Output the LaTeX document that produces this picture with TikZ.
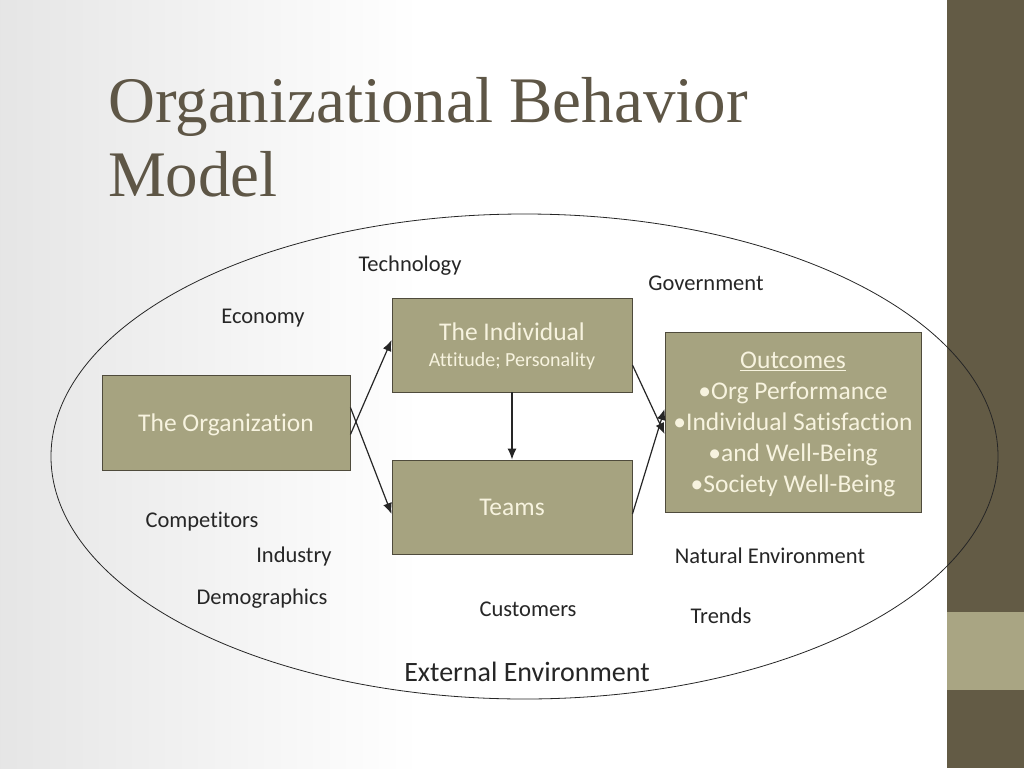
\documentclass[tikz,border=0pt]{standalone}
\usepackage{fontspec}
\usetikzlibrary{arrows.meta}
\setmainfont{Carlito}[Ligatures=NoCommon]
\newfontfamily\titlefont{Liberation Serif}
\definecolor{olivedark}{HTML}{635B45}
\definecolor{olivelight}{HTML}{A9A583}
\definecolor{boxfill}{HTML}{A6A380}
\definecolor{boxline}{HTML}{4F4B3C}
\definecolor{boxtext}{HTML}{F7F3DF}
\definecolor{titlecol}{HTML}{5E5646}
\definecolor{labelcol}{HTML}{262626}
\tikzset{
  obbox/.style={draw=boxline, line width=0.9pt, fill=boxfill, text=boxtext, text depth=0pt,
    minimum width=#1, align=center, font=\fontsize{25.5}{31}\selectfont},
  envlabel/.style={text=labelcol, font=\fontsize{22.5}{26}\selectfont},
  flow/.style={-{Latex[length=11pt,width=9pt]}, line width=1.2pt, draw=labelcol}
}
\begin{document}
\begin{tikzpicture}[x=1pt,y=-1pt]
	\useasboundingbox (0,0) rectangle (1024,768);
	% background and side bar
	\shade[left color=black!10, right color=white, shading angle=90] (0,0) rectangle (420,768);
	\fill[white] (420,0) rectangle (947,768);
	\fill[olivedark] (947,0) rectangle (1024,768);
	\fill[olivelight] (947,612) rectangle (1024,690);
	
	% title
	\node[anchor=base west, text=titlecol, font=\titlefont\fontsize{65}{70}\selectfont, inner sep=0pt] (title1) at (108,122) {Organizational Behavior};
	\node[anchor=base west, text=titlecol, font=\titlefont\fontsize{65}{70}\selectfont, inner sep=0pt] (title2) at (108,196) {Model};
	
	% external environment
	\draw[line width=0.8pt, draw=black!85] (524.5,456.5) ellipse [x radius=473.5pt, y radius=242.5pt];
	
	% boxes
	\node[obbox=248pt, minimum height=95pt] (org) at (226,422.5) {The Organization};
	\node[obbox=240pt, minimum height=94pt] (indiv) at (512,345) {The Individual\\[-5pt]{\fontsize{20}{24}\selectfont Attitude; Personality}};
	\node[obbox=240pt, minimum height=94pt] (teams) at (512,507) {Teams};
	\node[obbox=256pt, minimum height=180pt] (outc) at (793,422) {\underline{Outcomes}\\ \textbullet Org Performance\\ \textbullet Individual Satisfaction\\ \textbullet and Well-Being\\ \textbullet Society Well-Being};
	
	% arrows
	\draw[flow] ([yshift=-12pt]org.east) -- ([yshift=5pt]indiv.west);
	\draw[flow] ([yshift=15pt]org.east) -- ([yshift=-7pt]teams.west);
	\draw[flow] (indiv.south) -- (teams.north);
	\draw[flow] ([yshift=-20pt]indiv.east) -- ([yshift=-12pt]outc.west);
	\draw[flow] ([yshift=-7pt]teams.east) -- ([yshift=13pt]outc.west);
	
	% environment labels
	\node[envlabel] (tech) at (410,266) {Technology};
	\node[envlabel] (gov) at (706,283) {Government};
	\node[envlabel] (econ) at (263,318) {Economy};
	\node[envlabel] (comp) at (202,522) {Competitors};
	\node[envlabel] (ind) at (294,556) {Industry};
	\node[envlabel] (nat) at (770,556) {Natural Environment};
	\node[envlabel] (demo) at (262,599) {Demographics};
	\node[envlabel] (cust) at (528,609) {Customers};
	\node[envlabel] (trend) at (721,616) {Trends};
	\node[text=labelcol, font=\fontsize{28}{32}\selectfont] (ext) at (527,672) {External Environment};
\end{tikzpicture}
\end{document}
